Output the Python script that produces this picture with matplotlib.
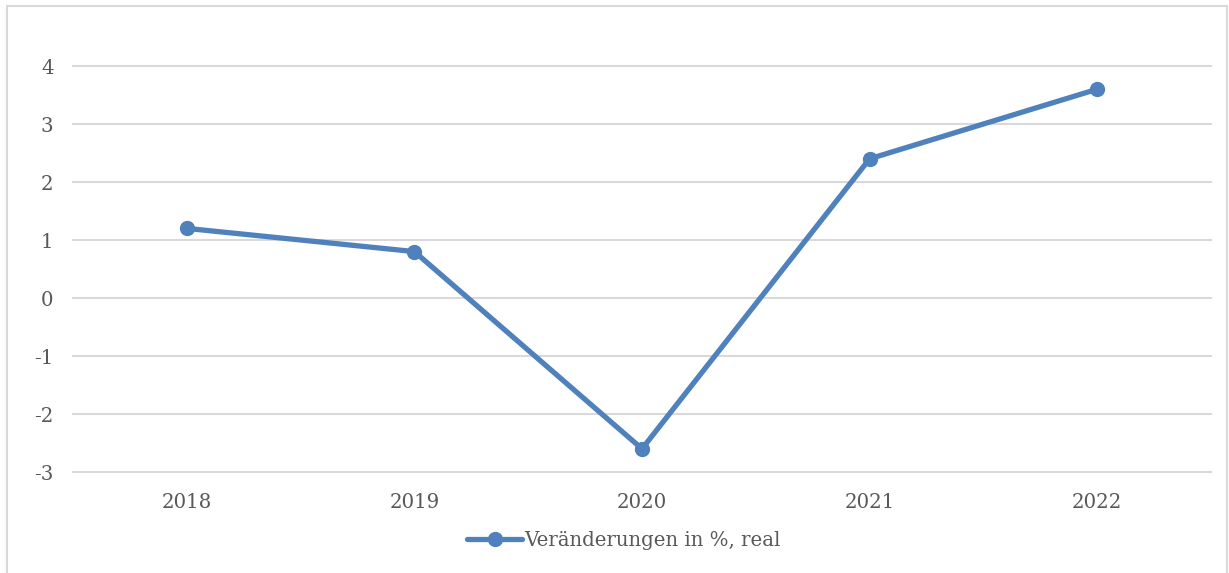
import matplotlib.pyplot as plt
from matplotlib.patches import Rectangle

# data
years = ["2018", "2019", "2020", "2021", "2022"]
change_real = [1.2, 0.8, -2.6, 2.4, 3.6]
y_ticks = [-3, -2, -1, 0, 1, 2, 3, 4]
series_label = "Veränderungen in %, real"

W, H = 1229, 573
blue = "#4f81bd"
grey_text = "#595959"
grid_col = "#d9d9d9"
fs = 14.2

plt.rcParams['font.family'] = ['DejaVu Serif']

fig = plt.figure(figsize=(W / 100, H / 100), dpi=100)

# light frame around the chart area
fig.patches.append(Rectangle((7 / W, -0.05), (1227 - 7) / W, (H - 6) / H + 0.05,
                             transform=fig.transFigure, fill=False,
                             edgecolor=grid_col, linewidth=1.5))

ax = fig.add_axes([73 / W, (H - 472) / H, (1211 - 73) / W, (472 - 66) / H])
x = list(range(len(years)))
ax.plot(x, change_real, color=blue, linewidth=3.8, marker="o", markersize=10,
        label=series_label, solid_capstyle="round")

ax.set_xlim(-0.5, len(years) - 0.5)
ax.set_ylim(-3, 4)
ax.set_xticks(x)
ax.set_xticklabels(years)
ax.set_yticks(y_ticks)
ax.set_yticklabels([str(t) for t in y_ticks])
ax.tick_params(length=0, colors=grey_text, labelsize=fs)
ax.tick_params(axis="y", pad=14)
ax.tick_params(axis="x", pad=15)
for s in ax.spines.values():
    s.set_visible(False)
ax.yaxis.grid(True, color=grid_col, linewidth=1.5)
for gl in ax.get_ygridlines():
    gl.set_clip_on(False)
ax.set_axisbelow(True)

fig.legend(loc="center", bbox_to_anchor=(624 / W, (H - 540) / H), frameon=False,
           handlelength=2.8, handletextpad=0.1, fontsize=fs, labelcolor=grey_text)

fig.savefig("out.png", dpi=100)
